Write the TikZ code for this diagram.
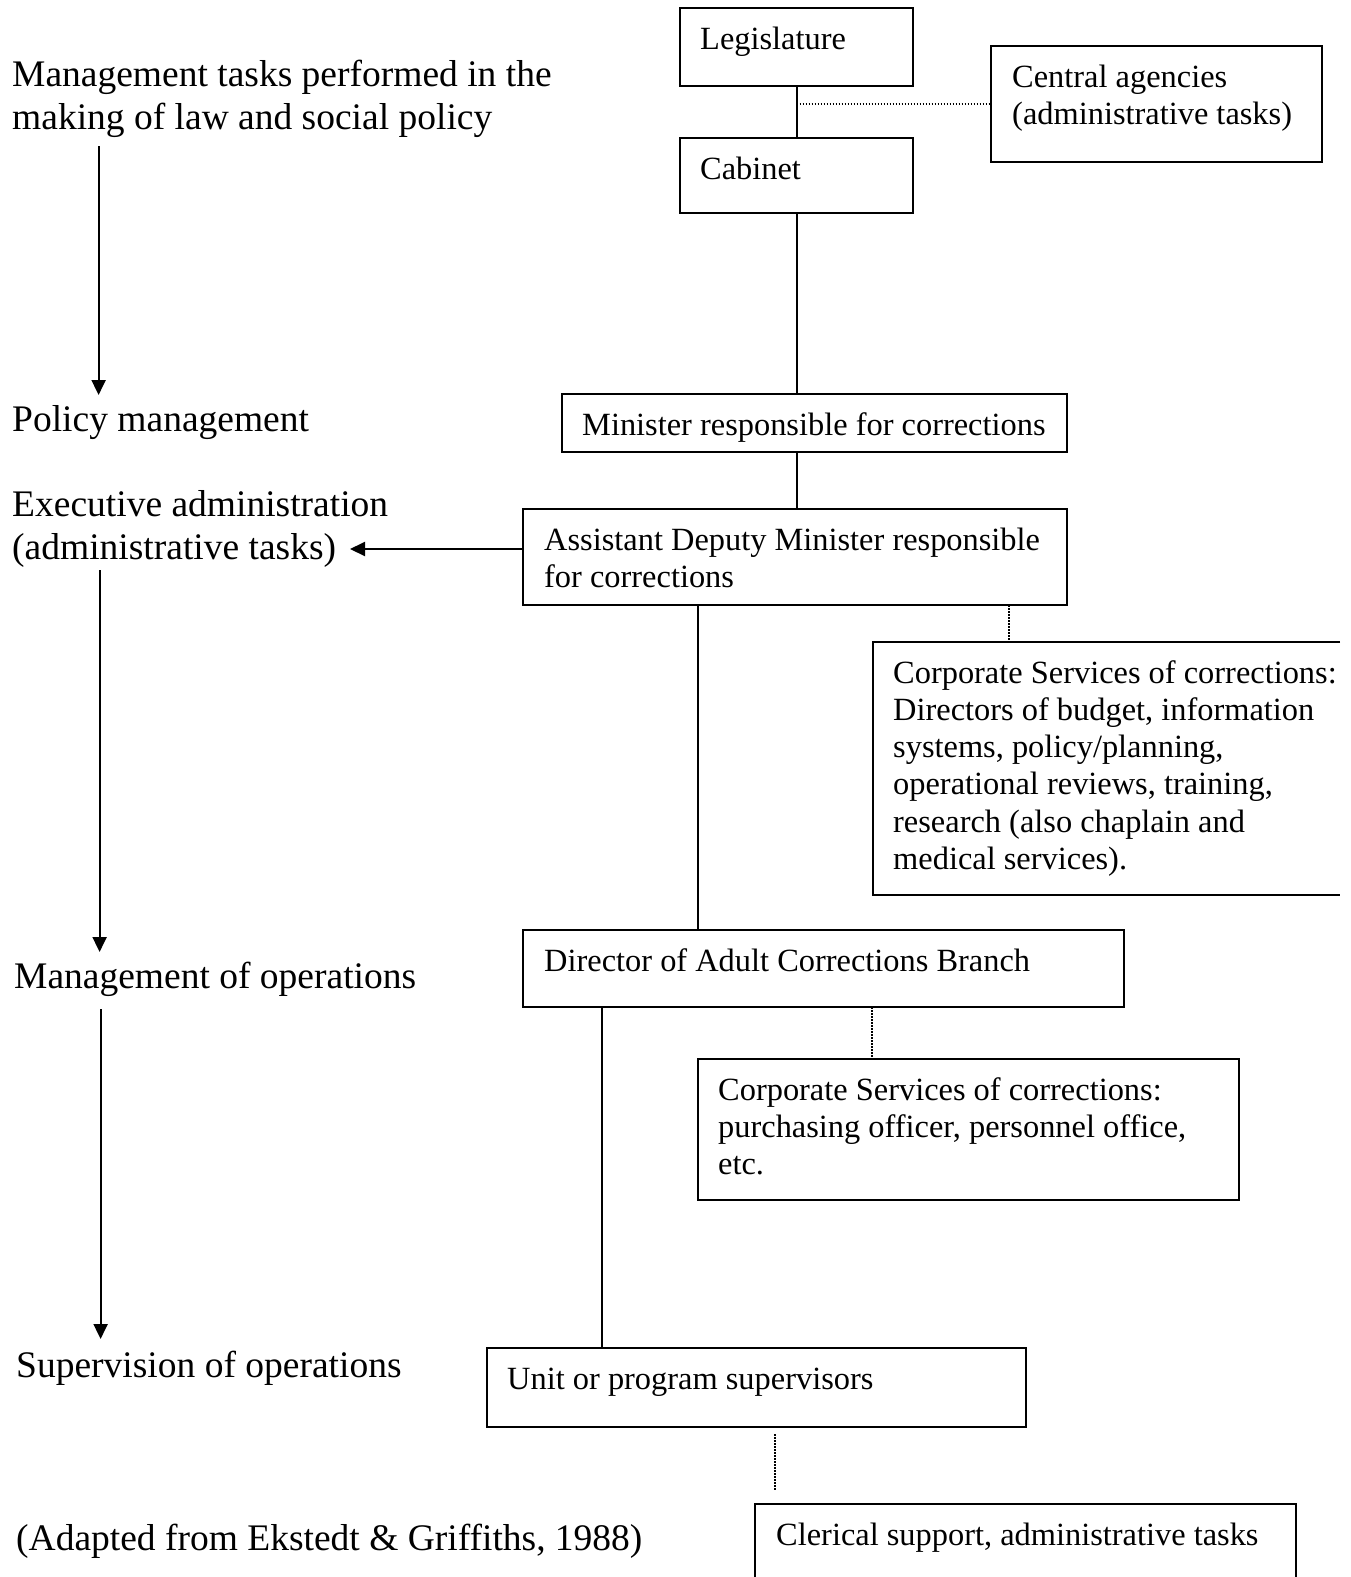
\documentclass[tikz,border=0pt]{standalone}
\usepackage{fontspec}
\setmainfont{Liberation Serif}
\usetikzlibrary{calc,arrows.meta}
\newcommand\boxfont{\fontsize{32.4}{37.3}\selectfont}
\newcommand\lblfont{\fontsize{37.5}{43.3}\selectfont}
\newcommand\ws{\spaceskip=0.25em plus 0.04em minus 0.04em\relax}
\tikzset{
  box/.style={draw, line width=2pt, inner sep=0pt, outer sep=0pt, anchor=north west},
  openbox/.style={inner sep=0pt, outer sep=0pt, anchor=north west},
  boxline/.style={line width=2pt},
  boxtxt/.style={anchor=base west, inner sep=0pt, font=\boxfont, align=left, text width=1000pt},
  lbl/.style={anchor=base west, inner sep=0pt, font=\lblfont, align=left, text width=1000pt},
  conn/.style={line width=2pt},
  dotline/.style={line width=1.5pt, dash pattern=on 1.5pt off 1.5pt},
  arr/.style={line width=2pt, -{Triangle[length=15pt,width=14pt]}}
}
\begin{document}
\begin{tikzpicture}[x=1pt,y=-1pt]
\useasboundingbox[fill=white] (0,0) rectangle (1351,1577);

% ---------- left column labels ----------
\node[lbl] (lmt) at (12,86) {\ws Management tasks performed in the\\making of law and social policy};
\node[lbl] (lpm) at (12,431) {\ws Policy management};
\node[lbl] (lea) at (12,516) {\ws Executive administration\\(administrative tasks)};
\node[lbl] (lmo) at (14,988) {\ws Management of operations};
\node[lbl] (lso) at (16,1377) {\ws Supervision of operations};
\node[lbl] (lad) at (16,1550) {\ws (Adapted from Ekstedt \& Griffiths, 1988)};

\coordinate (a1s) at (98.6,146);
\coordinate (a1e) at (98.6,395);
\coordinate (a2s) at (99.6,570);
\coordinate (a2e) at (99.6,952);
\coordinate (a3s) at (100.6,1009);
\coordinate (a3e) at (100.6,1339);
\draw[arr] (a1s) -- (a1e);
\draw[arr] (a2s) -- (a2e);
\draw[arr] (a3s) -- (a3e);

% ---------- boxes ----------
\node[box, minimum width=233pt, minimum height=78pt] (leg) at (680,8) {};
\node[boxtxt] at ($(leg.north west)+(20,41)$) {\ws Legislature};

\node[box, minimum width=233pt, minimum height=75pt] (cab) at (680,138) {};
\node[boxtxt] at ($(cab.north west)+(20,41)$) {\ws Cabinet};

\node[box, minimum width=331pt, minimum height=116pt] (cen) at (991,46) {};
\node[boxtxt] at ($(cen.north west)+(21,41)$) {\ws Central agencies\\(administrative tasks)};

\node[box, minimum width=505pt, minimum height=58pt] (min) at (562,394) {};
\node[boxtxt] at ($(min.north west)+(20,41)$) {\ws Minister responsible for corrections};

\node[box, minimum width=544pt, minimum height=96pt] (adm) at (523,509) {};
\node[boxtxt] at ($(adm.north west)+(21,41)$) {\ws Assistant Deputy Minister responsible\\for corrections};

\node[openbox, minimum width=467pt, minimum height=253pt] (cs1) at (873,642) {};
\draw[boxline] (cs1.north east) -- (cs1.north west) -- (cs1.south west) -- (cs1.south east);
\node[boxtxt] at ($(cs1.north west)+(20,41)$) {\ws Corporate Services of corrections:\\Directors of budget, information\\systems, policy/planning,\\operational reviews, training,\\research (also chaplain and\\medical services).};

\node[box, minimum width=601pt, minimum height=77pt] (dir) at (523,930) {};
\node[boxtxt] at ($(dir.north west)+(21,41)$) {\ws Director of Adult Corrections Branch};

\node[box, minimum width=541pt, minimum height=141pt] (cs2) at (698,1059) {};
\node[boxtxt] at ($(cs2.north west)+(20,41)$) {\ws Corporate Services of corrections:\\purchasing officer, personnel office,\\etc.};

\node[box, minimum width=539pt, minimum height=79pt] (uni) at (487,1348) {};
\node[boxtxt] at ($(uni.north west)+(20,41)$) {\ws Unit or program supervisors};

\node[openbox, minimum width=541pt, minimum height=73pt] (cle) at (755,1504) {};
\draw[boxline] (cle.south west) -- (cle.north west) -- (cle.north east) -- (cle.south east);
\node[boxtxt] at ($(cle.north west)+(21,41)$) {\ws Clerical support, administrative tasks};

% ---------- connectors ----------
\coordinate (xa) at (698,0);
\coordinate (xb) at (1009,0);
\coordinate (xc) at (602,0);
\coordinate (xd) at (872,0);
\coordinate (xe) at (775,0);
\coordinate (ya) at (0,549);
\coordinate (tipa) at (350,549);

\draw[conn] (leg.south) -- (cab.north);
\draw[dotline] (cen.west -| leg.south) -- (cen.west);
\draw[conn] (cab.south) -- (cab.south |- min.north);
\draw[conn] (cab.south |- min.south) -- (cab.south |- adm.north);
\draw[arr] (adm.west |- ya) -- (tipa);
\draw[conn] (adm.south -| xa) -- (dir.north -| xa);
\draw[dotline] (adm.south -| xb) -- (cs1.north -| xb);
\draw[conn] (dir.south -| xc) -- (uni.north -| xc);
\draw[dotline] (dir.south -| xd) -- (cs2.north -| xd);
\draw[dotline, shorten <=7pt, shorten >=13pt] (uni.south -| xe) -- (cle.north -| xe);
\end{tikzpicture}
\end{document}
